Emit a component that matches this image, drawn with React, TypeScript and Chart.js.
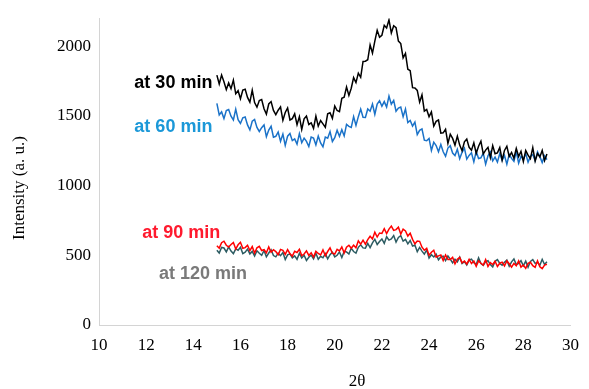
import React, { useEffect, useRef } from "react";
import { Chart, registerables } from "chart.js";
Chart.register(...registerables);

const TWO_THETA = [
  15.0, 15.1, 15.2, 15.3, 15.4, 15.5, 15.6, 15.7, 15.8, 15.9,
  16.0, 16.1, 16.2, 16.3, 16.4, 16.5, 16.6, 16.7, 16.8, 16.9,
  17.0, 17.1, 17.2, 17.3, 17.4, 17.5, 17.6, 17.7, 17.8, 17.9,
  18.0, 18.1, 18.2, 18.3, 18.4, 18.5, 18.6, 18.7, 18.8, 18.9,
  19.0, 19.1, 19.2, 19.3, 19.4, 19.5, 19.6, 19.7, 19.8, 19.9,
  20.0, 20.1, 20.2, 20.3, 20.4, 20.5, 20.6, 20.7, 20.8, 20.9,
  21.0, 21.1, 21.2, 21.3, 21.4, 21.5, 21.6, 21.7, 21.8, 21.9,
  22.0, 22.1, 22.2, 22.3, 22.4, 22.5, 22.6, 22.7, 22.8, 22.9,
  23.0, 23.1, 23.2, 23.3, 23.4, 23.5, 23.6, 23.7, 23.8, 23.9,
  24.0, 24.1, 24.2, 24.3, 24.4, 24.5, 24.6, 24.7, 24.8, 24.9,
  25.0, 25.1, 25.2, 25.3, 25.4, 25.5, 25.6, 25.7, 25.8, 25.9,
  26.0, 26.1, 26.2, 26.3, 26.4, 26.5, 26.6, 26.7, 26.8, 26.9,
  27.0, 27.1, 27.2, 27.3, 27.4, 27.5, 27.6, 27.7, 27.8, 27.9,
  28.0, 28.1, 28.2, 28.3, 28.4, 28.5, 28.6, 28.7, 28.8, 28.9,
  29.0,
];

const MIN_30 = [
  1792, 1728, 1792, 1744, 1688, 1736, 1694, 1756, 1658, 1680,
  1622, 1684, 1690, 1632, 1598, 1684, 1595, 1562, 1609, 1616,
  1551, 1512, 1585, 1602, 1539, 1508, 1540, 1564, 1468, 1524,
  1556, 1470, 1480, 1514, 1436, 1494, 1402, 1478, 1498, 1438,
  1450, 1410, 1498, 1426, 1466, 1442, 1418, 1514, 1522, 1482,
  1570, 1538, 1530, 1626, 1634, 1706, 1646, 1698, 1774, 1738,
  1806, 1776, 1890, 1892, 1902, 2008, 1950, 2036, 2114, 2064,
  2078, 2149, 2130, 2188, 2094, 2146, 2132, 2036, 2018, 1915,
  1948, 1834, 1824, 1702, 1700, 1682, 1598, 1650, 1534, 1546,
  1494, 1528, 1426, 1460, 1470, 1376, 1378, 1404, 1302, 1368,
  1338, 1290, 1354, 1290, 1250, 1314, 1334, 1274, 1254, 1306,
  1230, 1282, 1318, 1226, 1254, 1274, 1200, 1286, 1228, 1234,
  1272, 1182, 1252, 1282, 1208, 1238, 1196, 1266, 1208, 1246,
  1172, 1251, 1218, 1193, 1272, 1175, 1230, 1205, 1252, 1179,
  1226,
];

const MIN_60 = [
  1589, 1506, 1528, 1480, 1537, 1545, 1497, 1470, 1548, 1472,
  1445, 1486, 1492, 1435, 1399, 1461, 1474, 1417, 1388, 1415,
  1435, 1350, 1398, 1425, 1347, 1353, 1384, 1317, 1369, 1288,
  1354, 1373, 1322, 1334, 1297, 1372, 1307, 1340, 1317, 1280,
  1348, 1341, 1292, 1355, 1306, 1278, 1347, 1339, 1387, 1316,
  1343, 1397, 1353, 1400, 1356, 1438, 1424, 1417, 1494, 1431,
  1494, 1548, 1490, 1488, 1549, 1533, 1585, 1511, 1584, 1608,
  1569, 1602, 1563, 1642, 1584, 1611, 1533, 1555, 1563, 1494,
  1549, 1452, 1467, 1426, 1455, 1365, 1396, 1406, 1325, 1321,
  1338, 1251, 1311, 1287, 1242, 1295, 1242, 1210, 1269, 1286,
  1233, 1215, 1260, 1193, 1238, 1269, 1190, 1216, 1235, 1170,
  1245, 1194, 1199, 1232, 1153, 1214, 1241, 1177, 1204, 1168,
  1230, 1181, 1216, 1153, 1223, 1195, 1174, 1244, 1160, 1209,
  1188, 1230, 1167, 1209, 1223, 1179, 1242, 1207, 1165, 1214,
  1186,
];

const MIN_90 = [
  568, 551, 590, 601, 572, 559, 577, 591, 545, 575,
  593, 550, 555, 572, 533, 562, 516, 554, 564, 534,
  540, 518, 560, 522, 540, 526, 504, 542, 536, 506,
  540, 511, 494, 529, 520, 543, 498, 509, 532, 499,
  518, 487, 528, 513, 502, 539, 497, 527, 553, 515,
  509, 542, 531, 560, 517, 558, 572, 550, 572, 554,
  604, 580, 608, 580, 612, 636, 617, 666, 631, 660,
  657, 690, 655, 688, 709, 678, 684, 701, 652, 687,
  674, 638, 658, 614, 582, 602, 600, 558, 536, 550,
  500, 522, 536, 486, 496, 502, 462, 502, 470, 470,
  486, 439, 472, 485, 446, 459, 437, 471, 441, 459,
  421, 460, 443, 430, 469, 420, 447, 434, 457, 420,
  443, 451, 423, 459, 439, 415, 442, 425, 460, 415,
  430, 406, 442, 450, 426, 414, 460, 418, 404, 430,
  436,
];

const MIN_120 = [
  536, 516, 556, 552, 524, 560, 530, 512, 546, 536,
  558, 512, 522, 544, 510, 528, 494, 532, 514, 500,
  534, 489, 516, 539, 498, 489, 515, 497, 519, 469,
  503, 510, 481, 496, 471, 514, 481, 500, 463, 486,
  501, 474, 515, 472, 493, 482, 512, 474, 504, 522,
  488, 500, 524, 484, 528, 524, 509, 550, 527, 516,
  557, 575, 553, 551, 585, 555, 589, 615, 577, 599,
  617, 585, 633, 609, 617, 641, 595, 628, 640, 601,
  614, 582, 606, 566, 574, 526, 556, 530, 508, 538,
  480, 504, 488, 508, 468, 488, 493, 462, 495, 472,
  445, 471, 453, 487, 441, 455, 430, 465, 472, 447,
  434, 481, 440, 427, 454, 461, 433, 417, 457, 469,
  441, 429, 449, 465, 421, 453, 473, 433, 441, 461,
  425, 458, 415, 456, 469, 442, 449, 428, 471, 434,
  453,
];

const SERIES_LABELS = ["at 30 min", "at 60 min", "at 90 min", "at 120 min"];
const Y_TICKS = [0, 500, 1000, 1500, 2000];
const X_TITLE = "2\u03b8";
const Y_TITLE = "Intensity (a. u.)";

const SERIF = '"Liberation Serif", "Times New Roman", serif';
const SANS = '"Liberation Sans", Arial, sans-serif';

export default function App() {
  const ref = useRef<HTMLCanvasElement | null>(null);

  useEffect(() => {
    document.body.style.margin = "0";
    const canvas = ref.current;
    if (!canvas) return;

    const mk = (vals: number[]) => TWO_THETA.map((x, i) => ({ x, y: vals[i] }));

    // inline label anchors (in data coordinates)
    const labelPos = [
      { x: 11.5, y: 1702, color: "#000000" },
      { x: 11.5, y: 1383, color: "#1b98d8" },
      { x: 11.83, y: 624, color: "#ff1a2e" },
      { x: 12.54, y: 333, color: "#7a7a7a" },
    ];

    const textPlugin = {
      id: "textPlugin",
      afterDraw(chart: any) {
        const ctx = chart.ctx;
        const xs = chart.scales.x;
        const ys = chart.scales.y;
        ctx.save();
        ctx.font = `bold 18px ${SANS}`;
        ctx.textAlign = "left";
        ctx.textBaseline = "alphabetic";
        SERIES_LABELS.forEach((t, i) => {
          const p = labelPos[i];
          ctx.fillStyle = p.color;
          ctx.fillText(t, xs.getPixelForValue(p.x), ys.getPixelForValue(p.y));
        });
        ctx.fillStyle = "#000";
        ctx.font = `17px ${SERIF}`;
        ctx.textAlign = "center";
        ctx.textBaseline = "middle";
        ctx.fillText(X_TITLE, 357, 382);
        ctx.translate(20, 188);
        ctx.rotate(-Math.PI / 2);
        ctx.fillText(Y_TITLE, 0, 0);
        ctx.restore();
      },
    };

    const chart = new Chart(canvas, {
      type: "line",
      data: {
        datasets: [
          { label: SERIES_LABELS[0], data: mk(MIN_30), borderColor: "#000000", borderWidth: 1.5, pointRadius: 0 },
          { label: SERIES_LABELS[2], data: mk(MIN_90), borderColor: "#ff0000", borderWidth: 1.5, pointRadius: 0 },
          { label: SERIES_LABELS[1], data: mk(MIN_60), borderColor: "#1a72c8", borderWidth: 1.5, pointRadius: 0 },
          { label: SERIES_LABELS[3], data: mk(MIN_120), borderColor: "#2c5c62", borderWidth: 1.5, pointRadius: 0 },
        ],
      },
      options: {
        responsive: false,
        animation: false,
        layout: { padding: { top: 13, right: 8, left: 0, bottom: 0 } },
        plugins: { legend: { display: false }, tooltip: { enabled: false }, title: { display: false } },
        scales: {
          x: {
            type: "linear",
            min: 10,
            max: 30,
            grid: { display: false, drawTicks: false },
            border: { display: true, color: "#d4d4d4", width: 1 },
            ticks: { stepSize: 2, padding: 10, color: "#000", font: { family: SERIF, size: 17 }, maxRotation: 0 },
            afterFit: (s: any) => { s.height = 64; },
          },
          y: {
            type: "linear",
            min: 0,
            max: 2200,
            grid: { display: false, drawTicks: false },
            border: { display: true, color: "#d4d4d4", width: 1 },
            ticks: {
              padding: 8,
              color: "#000",
              font: { family: SERIF, size: 17 },
              callback: (v: any) => String(v),
            },
            afterBuildTicks: (s: any) => { s.ticks = Y_TICKS.map((v) => ({ value: v })); },
            afterFit: (s: any) => { s.width = 99; },
          },
        },
      },
      plugins: [textPlugin],
    });

    return () => chart.destroy();
  }, []);

  return <canvas ref={ref} width={589} height={389} style={{ display: "block", width: 589, height: 389 }} />;
}
